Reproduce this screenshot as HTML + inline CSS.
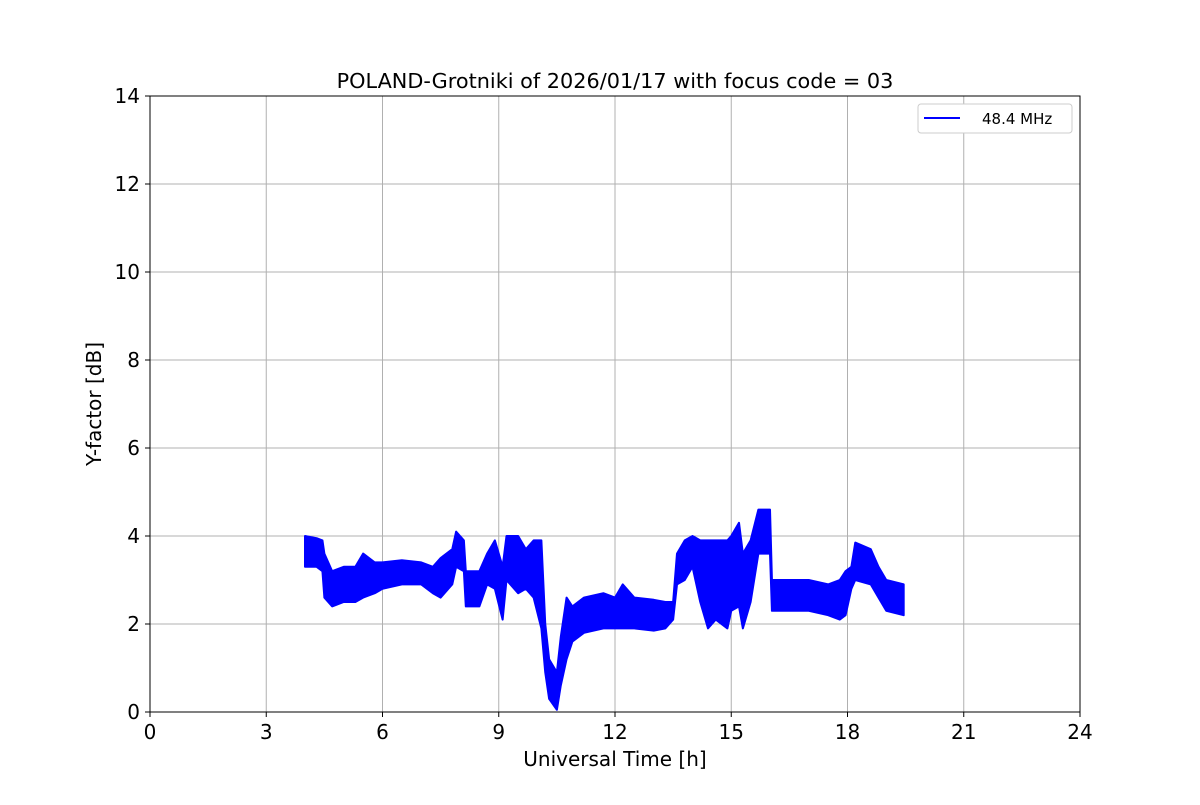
<!DOCTYPE html>
<html><head><meta charset="utf-8"><style>
body{margin:0;background:#fff;font-family:"Liberation Sans","DejaVu Sans",sans-serif}
svg text{font-family:"DejaVu Sans","Liberation Sans",sans-serif}
</style></head><body>
<svg id="chart" width="1200" height="800" xmlns="http://www.w3.org/2000/svg">
<rect width="1200" height="800" fill="#fff"/>
<g id="grid"></g>
<g id="series"></g>
<rect x="150" y="96" width="930" height="616" fill="none" stroke="#000" stroke-width="1"/>
<g id="ticks"></g>
<text x="615" y="88" font-size="20.8" text-anchor="middle">POLAND-Grotniki of 2026/01/17 with focus code = 03</text>
<text x="615" y="766" font-size="20" text-anchor="middle">Universal Time [h]</text>
<text transform="translate(101,404) rotate(-90)" font-size="20" text-anchor="middle">Y-factor [dB]</text>
<g>
<rect x="918" y="104" width="154" height="29" rx="3" fill="#fff" stroke="#ccc"/>
<line x1="924" y1="118" x2="960" y2="118" stroke="#0000ff" stroke-width="2"/>
<text x="982" y="124" font-size="15">48.4 MHz</text>
</g>
</svg>
<script>
const xTicks=[0,3,6,9,12,15,18,21,24];
const yTicks=[0,2,4,6,8,10,12,14];
const times=[4.0,4.3,4.45,4.5,4.7,5.0,5.3,5.5,5.8,6.0,6.5,7.0,7.3,7.5,7.8,7.9,8.1,8.15,8.5,8.7,8.9,9.1,9.2,9.5,9.7,9.9,10.1,10.2,10.3,10.5,10.6,10.75,10.9,11.2,11.7,12.0,12.2,12.5,13.0,13.3,13.5,13.6,13.8,14.0,14.2,14.4,14.6,14.9,15.0,15.2,15.3,15.5,15.7,16.0,16.05,16.5,17.0,17.5,17.8,17.95,18.1,18.2,18.6,18.8,19.0,19.45];
const lows=[3.3,3.3,3.2,2.6,2.4,2.5,2.5,2.6,2.7,2.8,2.9,2.9,2.7,2.6,2.9,3.3,3.2,2.4,2.4,2.9,2.8,2.1,3.0,2.7,2.8,2.6,1.9,0.9,0.3,0.05,0.6,1.2,1.6,1.8,1.9,1.9,1.9,1.9,1.85,1.9,2.1,2.9,3.0,3.3,2.5,1.9,2.1,1.9,2.3,2.4,1.9,2.5,3.6,3.6,2.3,2.3,2.3,2.2,2.1,2.2,2.8,3.0,2.9,2.6,2.3,2.2];
const highs=[4.0,3.95,3.9,3.6,3.2,3.3,3.3,3.6,3.4,3.4,3.45,3.4,3.3,3.5,3.7,4.1,3.9,3.2,3.2,3.6,3.9,3.3,4.0,4.0,3.7,3.9,3.9,2.0,1.2,0.9,1.7,2.6,2.4,2.6,2.7,2.6,2.9,2.6,2.55,2.5,2.5,3.6,3.9,4.0,3.9,3.9,3.9,3.9,4.0,4.3,3.6,3.9,4.6,4.6,3.0,3.0,3.0,2.9,3.0,3.2,3.3,3.85,3.7,3.3,3.0,2.9];
const NS="http://www.w3.org/2000/svg";
const X=t=>150+t*930/24, Y=v=>712-v*616/14;
const grid=document.getElementById('grid'),ticks=document.getElementById('ticks'),ser=document.getElementById('series');
function mk(tag,attrs,parent){const e=document.createElementNS(NS,tag);for(const k in attrs)e.setAttribute(k,attrs[k]);parent.appendChild(e);return e;}
xTicks.forEach(t=>{
 const g=mk('line',{x1:X(t),x2:X(t),y1:96,y2:712,stroke:'#b0b0b0','stroke-width':1},grid);
 
 
 mk('line',{x1:X(t),x2:X(t),y1:712,y2:717,stroke:'#000'},ticks);
 const l=mk('text',{x:X(t),y:739,'font-size':20,'text-anchor':'middle'},ticks);l.textContent=t;
 
 
});
yTicks.forEach(v=>{
 const g=mk('line',{x1:150,x2:1080,y1:Y(v),y2:Y(v),stroke:'#b0b0b0','stroke-width':1},grid);
 
 
 mk('line',{x1:145,x2:150,y1:Y(v),y2:Y(v),stroke:'#000'},ticks);
 const l=mk('text',{x:140,y:Y(v)+7,'font-size':20,'text-anchor':'end'},ticks);l.textContent=v;
 
 
});
let pts=[];
times.forEach((t,i)=>pts.push(X(t)+','+Y(highs[i])));
for(let i=times.length-1;i>=0;i--)pts.push(X(times[i])+','+Y(lows[i]));
const band=mk('polygon',{points:pts.join(' '),fill:'#0000ff',stroke:'#0000ff','stroke-width':2,'stroke-linejoin':'round'},ser);


</script>
</body></html>
